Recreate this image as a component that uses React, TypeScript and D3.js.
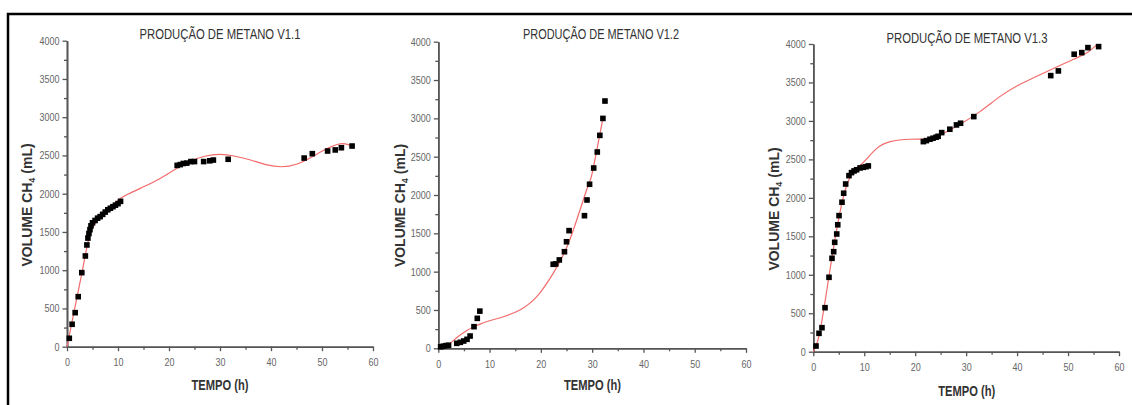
import React, { useEffect, useRef } from "react";
import * as d3 from "d3";

// eixos
const tempoTicks = [0, 10, 20, 30, 40, 50, 60];
const volumeTicks = [0, 500, 1000, 1500, 2000, 2500, 3000, 3500, 4000];

// V1.1 - pontos experimentais [tempo (h), volume (mL)]
const pontosV11: [number, number][] = [
  [0.45, 110], [1.0, 293], [1.6, 445], [2.2, 654], [2.9, 968], [3.6, 1186],
  [3.9, 1330], [4.1, 1420], [4.3, 1480], [4.5, 1530], [4.7, 1580], [5.0, 1620],
  [5.5, 1650], [6.0, 1680], [6.5, 1700], [7.0, 1730], [7.5, 1760], [8.0, 1790],
  [8.5, 1810], [9.0, 1830], [9.5, 1850], [10.0, 1870], [10.5, 1900],
  [21.6, 2370], [22.2, 2380], [22.8, 2395], [23.5, 2400], [24.3, 2420], [25.0, 2420],
  [26.8, 2420], [28.0, 2430], [28.7, 2440], [31.6, 2450],
  [46.5, 2466], [48.1, 2523], [51.1, 2558], [52.6, 2572], [53.8, 2601], [55.9, 2623],
];
// V1.1 - curva ajustada
const ajusteV11: [number, number][] = [
  [0, 0], [1, 330], [2, 660], [3, 990], [3.8, 1270], [4.5, 1460], [5.5, 1610],
  [7, 1730], [8.5, 1820], [10, 1915], [12, 1995], [15, 2090], [18, 2190],
  [21, 2310], [24, 2420], [27, 2490], [30, 2515], [33, 2490], [36, 2440],
  [39, 2380], [42, 2352], [45, 2385], [48, 2480], [51, 2590], [53.5, 2652],
  [55, 2645], [56, 2620],
];

// V1.2
const pontosV12: [number, number][] = [
  [0.46, 20], [0.98, 28], [1.5, 35], [2.0, 40],
  [3.6, 65], [4.3, 78], [4.95, 95], [5.6, 117], [6.2, 160], [6.96, 282], [7.6, 391], [8.1, 485],
  [22.4, 1096], [22.9, 1100], [23.6, 1153], [24.6, 1260], [25.0, 1390], [25.5, 1535],
  [28.5, 1730], [29.0, 1935], [29.5, 2140], [30.3, 2352], [31.0, 2561], [31.5, 2778],
  [32.1, 2999], [32.5, 3226],
];
const ajusteV12: [number, number][] = [
  [1.2, 0], [2.5, 75], [4, 160], [5.5, 230], [7, 285], [8.5, 325],
  [10, 360], [12.7, 412], [15.9, 500], [19.2, 673], [22.4, 978], [25.6, 1409],
  [28.9, 2062], [30, 2283], [32.1, 3000],
];

// V1.3
const pontosV13: [number, number][] = [
  [0.53, 74], [1.12, 239], [1.7, 312], [2.3, 572], [3.08, 967], [3.67, 1214],
  [4.0, 1300], [4.2, 1422], [4.6, 1530], [4.8, 1650], [5.05, 1769], [5.63, 1943],
  [5.96, 2060], [6.35, 2180], [7.0, 2289], [7.5, 2328], [8.0, 2350], [8.5, 2365],
  [9.17, 2389], [9.8, 2397], [10.35, 2405], [10.8, 2415],
  [21.6, 2731], [22.2, 2744], [22.9, 2762], [23.5, 2775], [24.1, 2788], [24.5, 2800],
  [25.2, 2848], [26.8, 2892], [28.1, 2948], [28.9, 2970], [31.5, 3056],
  [46.6, 3589], [48.1, 3650], [51.2, 3867], [52.7, 3888], [53.9, 3953], [56.0, 3966],
];
const ajusteV13: [number, number][] = [
  [0, 0], [1.3, 260], [3.27, 1062], [5.2, 1800], [6.55, 2160], [7.87, 2330],
  [10.1, 2480], [12.4, 2640], [15.1, 2731], [19, 2762], [22.2, 2766], [24.8, 2814],
  [28.8, 2957], [32.7, 3121], [36.6, 3316], [40.6, 3477], [46.5, 3663], [51.1, 3802],
  [53.7, 3885], [55.6, 3988],
];

const titulos = ["PRODUÇÃO DE METANO V1.1", "PRODUÇÃO DE METANO V1.2", "PRODUÇÃO DE METANO V1.3"];
const series = [
  { pontos: pontosV11, ajuste: ajusteV11 },
  { pontos: pontosV12, ajuste: ajusteV12 },
  { pontos: pontosV13, ajuste: ajusteV13 },
];

// posicao de cada painel na figura
const layout = [
  { x0: 67, x1: 373, yTop: 40.7, yBot: 346.7, tx: 220, ty: 39, tw: 161, lx: 220, ly: 390, vx: 31.5, vy: 205 },
  { x0: 438.3, x1: 746, yTop: 41.7, yBot: 348.3, tx: 601, ty: 39, tw: 156, lx: 592.5, ly: 390, vx: 405, vy: 205.5 },
  { x0: 813.3, x1: 1119, yTop: 44, yBot: 351.7, tx: 967, ty: 43, tw: 161, lx: 966.7, ly: 396, vx: 779, vy: 209 },
];

const FONTE = "'Liberation Sans Narrow', 'Liberation Sans', Arial, sans-serif";

const App = () => {
  const svgRef = useRef<SVGSVGElement>(null);
  const width = 1132;
  const height = 405;

  useEffect(() => {
    const svg = d3.select(svgRef.current);
    svg.selectAll("*").remove();

    // moldura
    svg.append("path")
      .attr("d", `M8,${height} L8,14 L${width},14`)
      .attr("fill", "none")
      .attr("stroke", "#000")
      .attr("stroke-width", 2.5);

    series.forEach((s, i) => {
      const L = layout[i];
      const x = d3.scaleLinear().domain([0, 60]).range([L.x0, L.x1]);
      const y = d3.scaleLinear().domain([0, 4000]).range([L.yBot, L.yTop]);
      const g = svg.append("g");

      // minor ticks
      g.append("g")
        .attr("transform", `translate(0,${L.yBot})`)
        .call(d3.axisBottom(x).tickValues(d3.range(5, 60, 10)).tickSize(3).tickSizeOuter(0).tickFormat(() => ""));
      g.append("g")
        .attr("transform", `translate(${L.x0},0)`)
        .call(d3.axisLeft(y).tickValues(d3.range(250, 4000, 500)).tickSize(3).tickSizeOuter(0).tickFormat(() => ""));

      // major axes
      g.append("g")
        .attr("transform", `translate(0,${L.yBot})`)
        .call(d3.axisBottom(x).tickValues(tempoTicks).tickFormat(d3.format("d")).tickSize(4.5).tickSizeOuter(0).tickPadding(7));
      g.append("g")
        .attr("transform", `translate(${L.x0},0)`)
        .call(d3.axisLeft(y).tickValues(volumeTicks).tickFormat(d3.format("d")).tickSize(4.5).tickSizeOuter(0).tickPadding(3));

      g.selectAll(".domain").attr("stroke", "#555").attr("stroke-width", 1.6);
      g.selectAll(".tick line").attr("stroke", "#555").attr("stroke-width", 1.3);
      g.selectAll<SVGTextElement, unknown>(".tick text")
        .attr("fill", "#666")
        .style("font-family", FONTE)
        .style("font-size", "11px")
        .attr("textLength", function () {
          const t = this.textContent || "";
          return t.length ? t.length * 5 : null;
        })
        .attr("lengthAdjust", "spacingAndGlyphs");

      // curva ajustada
      const linha = d3.line<[number, number]>()
        .x((d) => x(d[0]))
        .y((d) => y(d[1]))
        .curve(d3.curveNatural);
      g.append("path")
        .datum(s.ajuste)
        .attr("fill", "none")
        .attr("stroke", "#f26b6b")
        .attr("stroke-width", 1.2)
        .attr("d", linha);

      // pontos
      const lado = 5.6;
      g.selectAll("rect.ponto")
        .data(s.pontos)
        .enter()
        .append("rect")
        .attr("class", "ponto")
        .attr("x", (d) => x(d[0]) - lado / 2)
        .attr("y", (d) => y(d[1]) - lado / 2)
        .attr("width", lado)
        .attr("height", lado)
        .attr("fill", "#000");

      // titulo
      g.append("text")
        .attr("x", L.tx)
        .attr("y", L.ty)
        .attr("text-anchor", "middle")
        .attr("textLength", L.tw)
        .attr("lengthAdjust", "spacingAndGlyphs")
        .attr("fill", "#333")
        .style("font-family", FONTE)
        .style("font-size", "14px")
        .text(titulos[i]);

      // eixo x
      g.append("text")
        .attr("x", L.lx)
        .attr("y", L.ly)
        .attr("text-anchor", "middle")
        .attr("textLength", 57)
        .attr("lengthAdjust", "spacingAndGlyphs")
        .attr("fill", "#333")
        .style("font-family", FONTE)
        .style("font-size", "15px")
        .style("font-weight", "bold")
        .text("TEMPO (h)");

      // eixo y
      const ty = g.append("text")
        .attr("transform", `translate(${L.vx},${L.vy}) rotate(-90)`)
        .attr("text-anchor", "middle")
        .attr("fill", "#333")
        .style("font-family", FONTE)
        .style("font-size", "14px")
        .style("font-weight", "bold");
      ty.append("tspan").text("VOLUME CH");
      ty.append("tspan").attr("dy", 3).style("font-size", "9px").text("4");
      ty.append("tspan").attr("dy", -3).text(" (mL)");
    });
  }, []);

  return (
    <svg
      ref={svgRef}
      width={width}
      height={height}
      style={{ position: "absolute", left: 0, top: 0, background: "#fff" }}
    />
  );
};

export default App;
